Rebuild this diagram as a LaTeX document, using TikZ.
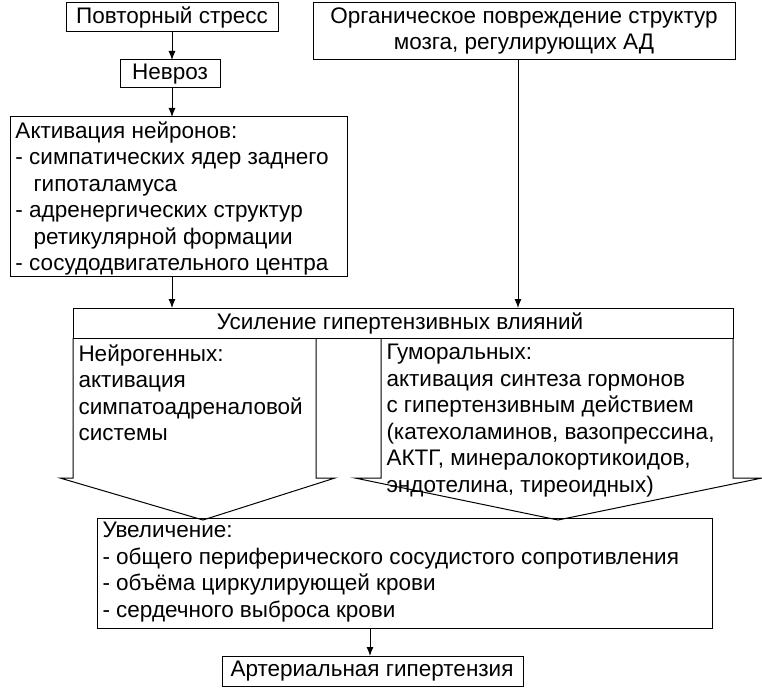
\documentclass[tikz,border=0pt]{standalone}
\usepackage{fontspec}
\setmainfont{Liberation Sans}
\usetikzlibrary{arrows.meta}
\begin{document}
\begin{tikzpicture}[x=1pt,y=-1pt,line width=1pt,
  ar/.style={-{Latex[length=9pt,width=7pt]}}]
\useasboundingbox (0,0) rectangle (762,690);
\tikzset{every node/.style={font=\fontsize{22.5}{26.5}\selectfont,inner sep=0pt}}
% top boxes
\draw (66,3) rectangle (278,32); \node (s) at (172,17.5) {Повторный стресс};
\coordinate (sb) at (172,32);
\draw (313,3) rectangle (735,60);
\node[align=center] (o) at (524,31) {Органическое повреждение структур\\мозга, регулирующих АД};
\coordinate (ob) at (518,60);
\draw (120,60) rectangle (220,88); \node (n) at (170,74) {Невроз};
\coordinate (nt) at (172,60); \coordinate (nb) at (172,88);
\draw (10,117) rectangle (347,276);
\node[align=left,anchor=north west] (a) at (15,121) {Активация нейронов:\\- симпатических ядер заднего\\\hspace{18pt}гипоталамуса\\- адренергических структур\\\hspace{18pt}ретикулярной формации\\- сосудодвигательного центра};
\coordinate (at) at (172,117); \coordinate (ab) at (172,276);
\draw[ar] (sb) -- (nt);
\draw[ar] (nb) -- (at);
% arrows
\draw (73,338) -- (73,478) -- (60,478) -- (203,520) -- (335,478) -- (316,478) -- (316,338);
\draw (381,338) -- (381,478) -- (355,478) -- (558,520) -- (762,478) -- (733,478) -- (733,338);
\draw (73,308) rectangle (733,338);
\node (u) at (400,323) {Усиление гипертензивных влияний};
\coordinate (ul) at (172,308); \coordinate (ur) at (518,308);
\draw[ar] (ab) -- (ul);
\draw[ar] (ob) -- (ur);
\node[align=left,anchor=north west] (ng) at (78,344) {Нейрогенных:\\активация\\симпатоадреналовой\\системы};
\node[align=left,anchor=north west] (gm) at (386,344) {Гуморальных:\\активация синтеза гормонов\\с гипертензивным действием\\(катехоламинов, вазопрессина,\\АКТГ, минералокортикоидов,\\эндотелина, тиреоидных)};
% bottom
\draw (97,518) rectangle (712,628);
\node[align=left,anchor=north west] (v) at (102,522) {Увеличение:\\- общего периферического сосудистого сопротивления\\- объёма циркулирующей крови\\- сердечного выброса крови};
\coordinate (vb) at (370,628);
\draw (222,656) rectangle (523,686);
\node (h) at (372,671) {Артериальная гипертензия};
\coordinate (ht) at (370,656);
\draw[ar] (vb) -- (ht);
\end{tikzpicture}
\end{document}
